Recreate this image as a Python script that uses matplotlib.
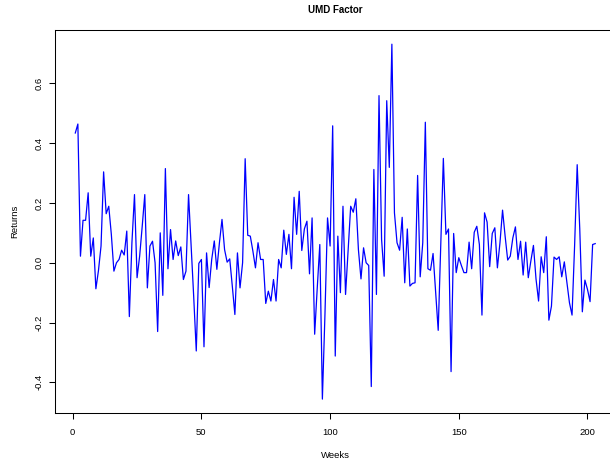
import matplotlib
matplotlib.use("Agg")
import matplotlib.pyplot as plt
import numpy as np

plt.rcParams['font.family'] = ['Liberation Sans', 'DejaVu Sans']

title = "UMD Factor"
x_label = "Weeks"
y_label = "Returns"

returns = [
    0.434, 0.464, 0.022, 0.142, 0.142, 0.234, 0.022, 0.083, -0.087, -0.026,
    0.056, 0.304, 0.164, 0.189, 0.095, -0.028, 0.000, 0.011, 0.042, 0.026,
    0.106, -0.180, 0.067, 0.228, -0.050, 0.022, 0.122, 0.228, -0.084, 0.056,
    0.072, 0.000, -0.230, 0.100, -0.109, 0.315, -0.020, 0.111, 0.011, 0.073,
    0.024, 0.053, -0.056, -0.028, 0.228, 0.058, -0.113, -0.295, -0.002, 0.011,
    -0.281, 0.033, -0.083, 0.011, 0.073, -0.022, 0.067, 0.145, 0.044, 0.002,
    0.013, -0.078, -0.173, 0.033, -0.084, 0.000, 0.348, 0.092, 0.089, 0.039,
    -0.017, 0.067, 0.011, 0.011, -0.136, -0.095, -0.128, -0.056, -0.128, 0.011,
    -0.017, 0.109, 0.028, 0.095, -0.020, 0.219, 0.095, 0.239, 0.041, 0.113,
    0.139, -0.037, 0.150, -0.239, -0.085, 0.061, -0.456, -0.173, 0.150, 0.056,
    0.458, -0.312, 0.089, -0.100, 0.189, -0.106, 0.044, 0.189, 0.169, 0.214,
    0.044, -0.054, 0.050, 0.000, -0.009, -0.414, 0.312, -0.106, 0.559, 0.078,
    -0.045, 0.542, 0.319, 0.731, 0.167, 0.067, 0.042, 0.152, -0.067, 0.113,
    -0.078, -0.069, -0.067, 0.292, -0.047, 0.067, 0.470, -0.020, -0.025, 0.031,
    -0.100, -0.226, 0.056, 0.349, 0.095, 0.113, -0.364, 0.098, -0.033, 0.017,
    -0.009, -0.033, -0.033, 0.069, -0.020, 0.102, 0.122, 0.061, -0.175, 0.167,
    0.136, -0.013, 0.098, 0.117, -0.017, 0.067, 0.176, 0.089, 0.009, 0.022,
    0.083, 0.120, 0.011, 0.072, -0.041, 0.069, -0.050, 0.006, 0.058, -0.054,
    -0.128, 0.020, -0.033, 0.087, -0.192, -0.145, 0.019, 0.011, 0.020, -0.047,
    0.003, -0.067, -0.134, -0.175, 0.058, 0.328, 0.113, -0.164, -0.058, -0.089,
    -0.130, 0.061, 0.064,
]
weeks = np.arange(1, len(returns) + 1)

x_ticks = [0, 50, 100, 150, 200]
y_ticks = [-0.4, -0.2, 0.0, 0.2, 0.4, 0.6]
y_tick_labels = ["-0.4", "-0.2", "0.0", "0.2", "0.4", "0.6"]

fig = plt.figure(figsize=(6.10, 4.61), dpi=100)
ax = fig.add_axes([54.5 / 610, (461 - 413.3) / 461, (616 - 54.5) / 610, 383.3 / 461])

ax.plot(weeks, returns, color="#0000FF", linewidth=0.9)

# R-style 4% padding
xr = weeks.max() - weeks.min()
ax.set_xlim(weeks.min() - 0.04 * xr, weeks.max() + 0.04 * xr)
ymin, ymax = min(returns), max(returns)
yr = ymax - ymin
ax.set_ylim(ymin - 0.04 * yr, ymax + 0.04 * yr)

ax.set_xticks(x_ticks)
ax.set_xticklabels([str(t) for t in x_ticks])
ax.set_yticks(y_ticks)
ax.set_yticklabels(y_tick_labels, rotation=90, va="center")

for s in ax.spines.values():
    s.set_linewidth(0.75)
    s.set_color("black")

ax.tick_params(axis="both", direction="out", length=4.1, width=0.75,
               labelsize=6.8, colors="black")
ax.tick_params(axis="x", pad=6.2)
ax.tick_params(axis="y", pad=4.0)

ax.set_title(title, fontsize=7, fontweight="bold", pad=12)
ax.set_xlabel(x_label, fontsize=6.8)
ax.set_ylabel(y_label, fontsize=6.8)
ax.xaxis.set_label_coords((335 - 54.5) / (616 - 54.5), (413.3 - 455) / 383.3)
ax.xaxis.label.set_va("center")
ax.yaxis.set_label_coords((15 - 54.5) / (616 - 54.5), 0.5)
ax.yaxis.label.set_va("center")

fig.savefig("out.png", dpi=100)
